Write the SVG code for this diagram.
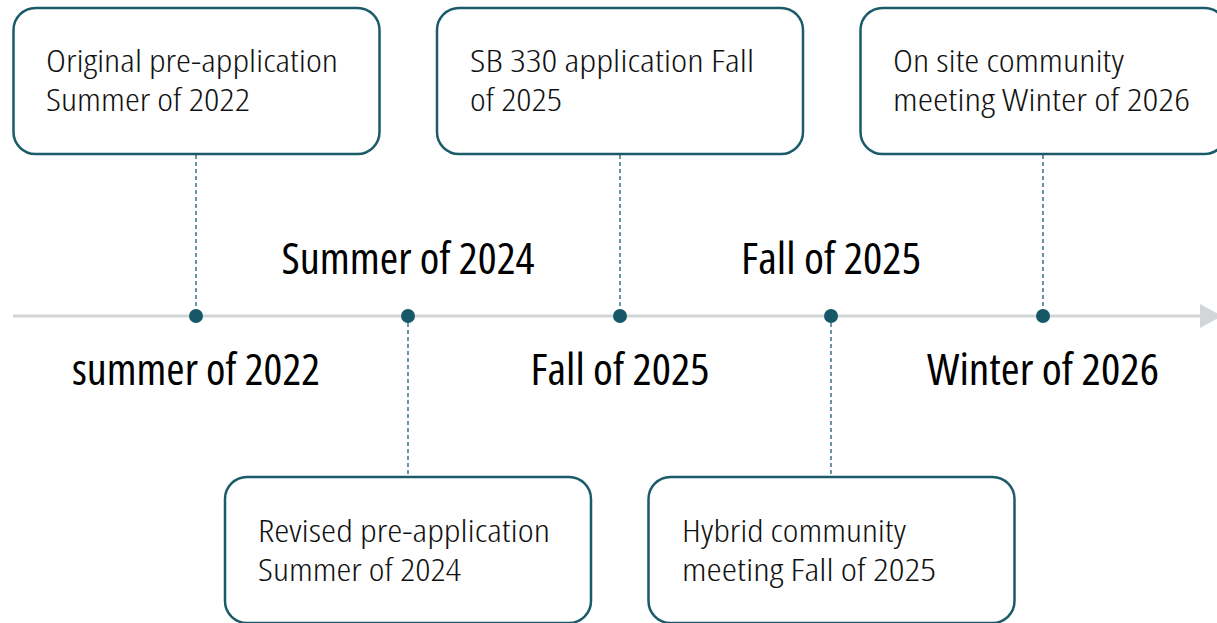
<svg xmlns="http://www.w3.org/2000/svg" width="1217" height="623" viewBox="0 0 1217 623">
<style>
.box{fill:#ffffff;stroke:#1b5a68;stroke-width:2.5}
.bt{font-family:'Open Sans','Roboto',sans-serif;font-stretch:75%;font-weight:300;font-size:31px;fill:#111111}
.big{font-family:'Open Sans','Roboto',sans-serif;font-stretch:75%;font-weight:500;font-size:43px;fill:#000000;text-anchor:middle}
.dash{stroke:#2a6a7a;stroke-width:1.4;stroke-dasharray:4 3;fill:none}
.dot{fill:#175868}
</style>
<rect width="1217" height="623" fill="#ffffff"/>
<g id="connectors">
<line x1="13" y1="316" x2="1202" y2="316" stroke="#d3d6d9" stroke-width="3"/>
<polygon points="1200,304 1222,316 1200,328" fill="#d3d6d9"/>
<line class="dash" x1="196" y1="155" x2="196" y2="316"/>
<line class="dash" x1="620" y1="155" x2="620" y2="316"/>
<line class="dash" x1="1043" y1="155" x2="1043" y2="316"/>
<line class="dash" x1="408" y1="316" x2="408" y2="477"/>
<line class="dash" x1="831" y1="316" x2="831" y2="477"/>
</g>
<g id="dots">
<circle class="dot" cx="196" cy="316" r="7"/>
<circle class="dot" cx="408" cy="316" r="7"/>
<circle class="dot" cx="620" cy="316" r="7"/>
<circle class="dot" cx="831" cy="316" r="7"/>
<circle class="dot" cx="1043" cy="316" r="7"/>
</g>
<g id="node1">
<rect class="box" x="13.5" y="8" width="366" height="146" rx="22"/>
<text class="bt"><tspan x="46" y="72" textLength="292" lengthAdjust="spacingAndGlyphs">Original pre-application</tspan><tspan x="46" y="111" textLength="204" lengthAdjust="spacingAndGlyphs">Summer of 2022</tspan></text>
</g>
<g id="node2">
<rect class="box" x="437" y="8" width="366" height="146" rx="22"/>
<text class="bt"><tspan x="470" y="72" textLength="284" lengthAdjust="spacingAndGlyphs">SB 330 application Fall</tspan><tspan x="470" y="111" textLength="92" lengthAdjust="spacingAndGlyphs">of 2025</tspan></text>
</g>
<g id="node3">
<rect class="box" x="860.5" y="8" width="366" height="146" rx="22"/>
<text class="bt"><tspan x="893" y="72" textLength="231" lengthAdjust="spacingAndGlyphs">On site community</tspan><tspan x="893" y="111" textLength="297" lengthAdjust="spacingAndGlyphs">meeting Winter of 2026</tspan></text>
</g>
<g id="node4">
<rect class="box" x="225" y="477" width="366" height="146" rx="22"/>
<text class="bt"><tspan x="258" y="542" textLength="292" lengthAdjust="spacingAndGlyphs">Revised pre-application</tspan><tspan x="258" y="581" textLength="203" lengthAdjust="spacingAndGlyphs">Summer of 2024</tspan></text>
</g>
<g id="node5">
<rect class="box" x="648.5" y="477" width="366" height="146" rx="22"/>
<text class="bt"><tspan x="682" y="542" textLength="224" lengthAdjust="spacingAndGlyphs">Hybrid community</tspan><tspan x="682" y="581" textLength="254" lengthAdjust="spacingAndGlyphs">meeting Fall of 2025</tspan></text>
</g>
<g id="labels">
<text class="big" x="196" y="385" textLength="248" lengthAdjust="spacingAndGlyphs">summer of 2022</text>
<text class="big" x="408" y="274" textLength="253" lengthAdjust="spacingAndGlyphs">Summer of 2024</text>
<text class="big" x="620" y="385" textLength="179" lengthAdjust="spacingAndGlyphs">Fall of 2025</text>
<text class="big" x="831" y="274" textLength="180" lengthAdjust="spacingAndGlyphs">Fall of 2025</text>
<text class="big" x="1043" y="385" textLength="232" lengthAdjust="spacingAndGlyphs">Winter of 2026</text>
</g>
</svg>
